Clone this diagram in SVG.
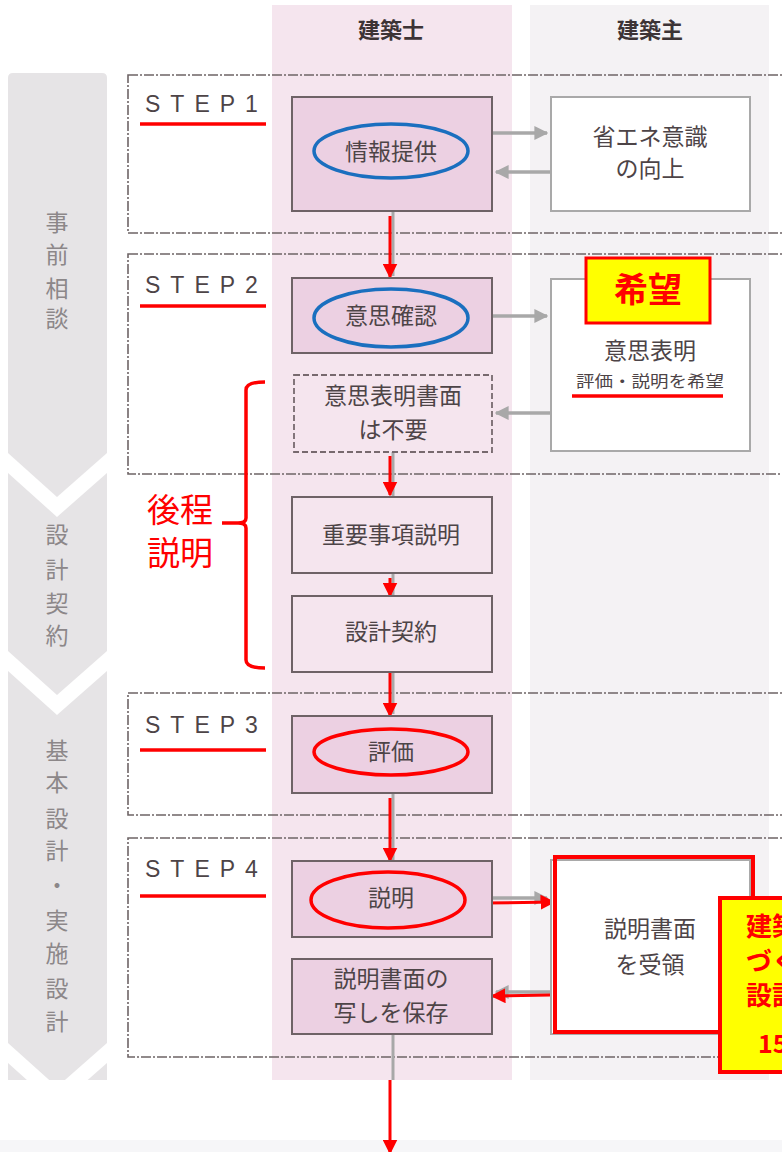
<svg xmlns="http://www.w3.org/2000/svg" width="782" height="1152" viewBox="0 0 782 1152">
<defs>
<style>
.cjk{font-family:"Noto Sans CJK JP","Noto Sans CJK SC",sans-serif}
.bt{font-family:"Noto Sans CJK JP",sans-serif;font-size:23px;fill:#4d4447;text-anchor:middle}
.side{font-family:"Noto Sans CJK JP",sans-serif;font-size:23px;fill:#8c8789;text-anchor:middle}
.hdr{font-family:"Noto Sans CJK JP",sans-serif;font-size:22px;font-weight:bold;fill:#3d3436;text-anchor:middle}
.step{font-family:"Liberation Sans",sans-serif;font-size:23px;fill:#4d4447;letter-spacing:10px}
.stepbox{fill:none;stroke:#6e6466;stroke-width:1.6;stroke-dasharray:10 2 2 2}
.dark{fill:#ecd0e2;stroke:#6e6266;stroke-width:2}
.light{fill:#f5e5ee;stroke:#6e6266;stroke-width:2}
.wbox{fill:#ffffff;stroke:#a9a9a9;stroke-width:2}
.ul{stroke:#ff0000;stroke-width:3.5}
.red{font-family:"Noto Sans CJK JP",sans-serif;fill:#ff0000;font-weight:bold}
.garr{stroke:#a8a8a8;stroke-width:3.5;fill:none}
.rarr{stroke:#ff0000;stroke-width:3;fill:none}
</style>
<marker id="gh" viewBox="0 0 10 10" refX="9" refY="5" markerWidth="4" markerHeight="4" orient="auto" markerUnits="strokeWidth"><path d="M0,0 L10,5 L0,10 Z" fill="#a8a8a8"/></marker>
<marker id="rh" viewBox="0 0 10 10" refX="9" refY="5" markerWidth="5" markerHeight="5" orient="auto" markerUnits="strokeWidth"><path d="M0,0 L10,5 L0,10 Z" fill="#ff0000"/></marker>
<clipPath id="sideclip"><rect x="0" y="0" width="120" height="1080"/></clipPath>
</defs>

<rect x="0" y="0" width="782" height="1152" fill="#ffffff"/>
<rect x="0" y="1140" width="782" height="12" fill="#f6f6f8"/>

<g id="columns">
<rect x="272" y="5" width="240" height="1075" fill="#f5e5ee"/>
<rect x="530" y="5" width="239" height="1075" fill="#f4f2f4"/>
<text class="hdr" x="391" y="38">建築士</text>
<text class="hdr" x="650" y="38">建築主</text>
</g>

<g id="sidebar" clip-path="url(#sideclip)" fill="#e6e4e6">
<path d="M8,78 Q8,73 13,73 L102,73 Q107,73 107,78 L107,453 L57,497 L8,453 Z"/>
<path d="M8,473 L57,517 L107,473 L107,651 L57,695 L8,651 Z"/>
<path d="M8,671 L57,715 L107,671 L107,1043 L57,1087 L8,1043 Z"/>
<path d="M8,1063 L57,1107 L107,1063 L107,1120 L8,1120 Z"/>
</g>
<g id="sidebar-labels">
<text class="side" x="57" y="231">事</text>
<text class="side" x="57" y="263">前</text>
<text class="side" x="57" y="297">相</text>
<text class="side" x="57" y="327">談</text>
<text class="side" x="57" y="543">設</text>
<text class="side" x="57" y="578">計</text>
<text class="side" x="57" y="612">契</text>
<text class="side" x="57" y="644">約</text>
<text class="side" x="57" y="759">基</text>
<text class="side" x="57" y="791">本</text>
<text class="side" x="57" y="827">設</text>
<text class="side" x="57" y="859">計</text>
<text class="side" x="57" y="894">・</text>
<text class="side" x="57" y="929">実</text>
<text class="side" x="57" y="962">施</text>
<text class="side" x="57" y="997">設</text>
<text class="side" x="57" y="1030">計</text>
</g>

<g id="step1">
<rect class="stepbox" x="128" y="75" width="670" height="158"/>
<text class="step" x="145" y="112">STEP1</text>
<line class="ul" x1="140" y1="124" x2="266" y2="124"/>
</g>
<g id="step2">
<rect class="stepbox" x="128" y="254" width="670" height="220"/>
<text class="step" x="145" y="293">STEP2</text>
<line class="ul" x1="140" y1="306" x2="266" y2="306"/>
</g>
<g id="step3">
<rect class="stepbox" x="128" y="693" width="670" height="122"/>
<text class="step" x="145" y="733">STEP3</text>
<line class="ul" x1="140" y1="750" x2="266" y2="750"/>
</g>
<g id="step4">
<rect class="stepbox" x="128" y="838" width="670" height="219"/>
<text class="step" x="145" y="877">STEP4</text>
<line class="ul" x1="140" y1="896" x2="266" y2="896"/>
</g>

<g id="connectors">
<line class="garr" x1="493" y1="133" x2="547" y2="133" marker-end="url(#gh)"/>
<line class="garr" x1="550" y1="172" x2="496" y2="172" marker-end="url(#gh)"/>
<line class="garr" x1="493" y1="316" x2="547" y2="316" marker-end="url(#gh)"/>
<line class="garr" x1="550" y1="413" x2="496" y2="413" marker-end="url(#gh)"/>
<line class="garr" x1="493" y1="898" x2="547" y2="898" marker-end="url(#gh)"/>
<line class="garr" x1="550" y1="992" x2="496" y2="992" marker-end="url(#gh)"/>
<line stroke="#a8a8a8" stroke-width="3" x1="393" y1="211" x2="393" y2="276"/>
<line stroke="#a8a8a8" stroke-width="3" x1="393" y1="452" x2="393" y2="496"/>
<line stroke="#a8a8a8" stroke-width="3" x1="393" y1="573" x2="393" y2="595"/>
<line stroke="#a8a8a8" stroke-width="3" x1="393" y1="672" x2="393" y2="714"/>
<line stroke="#a8a8a8" stroke-width="3" x1="393" y1="793" x2="393" y2="860"/>
<line stroke="#a8a8a8" stroke-width="3" x1="393" y1="1034" x2="393" y2="1080"/>
<line class="rarr" x1="390" y1="216" x2="390" y2="277" marker-end="url(#rh)"/>
<line class="rarr" x1="390" y1="456" x2="390" y2="495" marker-end="url(#rh)"/>
<line class="rarr" x1="390" y1="578" x2="390" y2="596" marker-end="url(#rh)"/>
<line class="rarr" x1="390" y1="672" x2="390" y2="716" marker-end="url(#rh)"/>
<line class="rarr" x1="390" y1="798" x2="390" y2="861" marker-end="url(#rh)"/>
<line class="rarr" x1="485" y1="903" x2="554" y2="902" marker-end="url(#rh)"/>
<line class="rarr" x1="550" y1="995" x2="492" y2="996" marker-end="url(#rh)"/>
<line class="rarr" x1="390" y1="1080" x2="390" y2="1153" marker-end="url(#rh)"/>
</g>

<g id="n-jouhou">
<rect class="dark" x="292" y="97" width="200" height="114"/>
<ellipse cx="391" cy="151" rx="77" ry="27" fill="none" stroke="#1a6fbf" stroke-width="3.5"/>
<text class="bt" x="391" y="160">情報提供</text>
</g>
<g id="n-shouene">
<rect class="wbox" x="551" y="97" width="199" height="114"/>
<text class="bt" x="650" y="145">省エネ意識</text>
<text class="bt" x="650" y="177">の向上</text>
</g>
<g id="n-ishikakunin">
<rect class="dark" x="292" y="278" width="200" height="75"/>
<ellipse cx="391" cy="318" rx="77" ry="29" fill="none" stroke="#1a6fbf" stroke-width="3.5"/>
<text class="bt" x="391" y="324">意思確認</text>
</g>
<g id="n-ishihyoumei">
<rect class="wbox" x="551" y="279" width="199" height="172"/>
<text class="bt" x="650" y="359">意思表明</text>
<text class="cjk" x="650" y="387" font-size="16" fill="#4d4447" text-anchor="middle" textLength="148" lengthAdjust="spacingAndGlyphs">評価・説明を希望</text>
<line class="ul" x1="572" y1="396" x2="723" y2="396"/>
</g>
<g id="n-kibou">
<rect x="586" y="258" width="124" height="65" fill="#ffff00" stroke="#ff0000" stroke-width="3"/>
<text class="red" x="648" y="302" font-size="34" text-anchor="middle">希望</text>
</g>
<g id="n-fuyou">
<rect x="294" y="375" width="198" height="77" fill="#f5e5ee" stroke="#77696e" stroke-width="1.8" stroke-dasharray="6 3"/>
<text class="bt" x="393" y="404">意思表明書面</text>
<text class="bt" x="393" y="438">は不要</text>
</g>
<g id="n-juuyou">
<rect class="light" x="292" y="497" width="200" height="76"/>
<text class="bt" x="391" y="543">重要事項説明</text>
</g>
<g id="n-keiyaku">
<rect class="light" x="292" y="596" width="200" height="76"/>
<text class="bt" x="391" y="640">設計契約</text>
</g>
<g id="n-hyouka">
<rect class="dark" x="292" y="716" width="200" height="77"/>
<ellipse cx="391" cy="752" rx="77" ry="23" fill="none" stroke="#ff0000" stroke-width="3.5"/>
<text class="bt" x="391" y="760">評価</text>
</g>
<g id="n-setsumei">
<rect class="dark" x="292" y="861" width="200" height="76"/>
<ellipse cx="388" cy="900" rx="77" ry="28" fill="none" stroke="#ff0000" stroke-width="3.5"/>
<text class="bt" x="391" y="906">説明</text>
</g>
<g id="n-juryou">
<rect class="wbox" x="551" y="860" width="199" height="174"/>
<rect x="555" y="857" width="198" height="175" fill="none" stroke="#ff0000" stroke-width="4"/>
<text class="bt" x="650" y="937">説明書面</text>
<text class="bt" x="650" y="973">を受領</text>
</g>
<g id="n-hozon">
<rect class="dark" x="292" y="959" width="200" height="75"/>
<text class="bt" x="391" y="987">説明書面の</text>
<text class="bt" x="391" y="1021">写しを保存</text>
</g>
<g id="n-note">
<rect x="720" y="898" width="90" height="174" fill="#ffff00" stroke="#ff0000" stroke-width="4"/>
<text class="red" x="746" y="936" font-size="26">建築</text>
<text class="red" x="746" y="971" font-size="26">づく</text>
<text class="red" x="746" y="1005" font-size="26">設計</text>
<text class="red" x="758" y="1053" font-size="25">15</text>
</g>

<g id="brace">
<path d="M265,382 Q246,382 246,390 L246,518 Q246,523 238,523 L222,523 M238,523 Q246,523 246,528 L246,660 Q246,668 265,668" fill="none" stroke="#ff0000" stroke-width="3.5"/>
<text class="cjk" x="180" y="522" font-size="33" fill="#ff0000" text-anchor="middle">後程</text>
<text class="cjk" x="180" y="565" font-size="33" fill="#ff0000" text-anchor="middle">説明</text>
</g>
</svg>
